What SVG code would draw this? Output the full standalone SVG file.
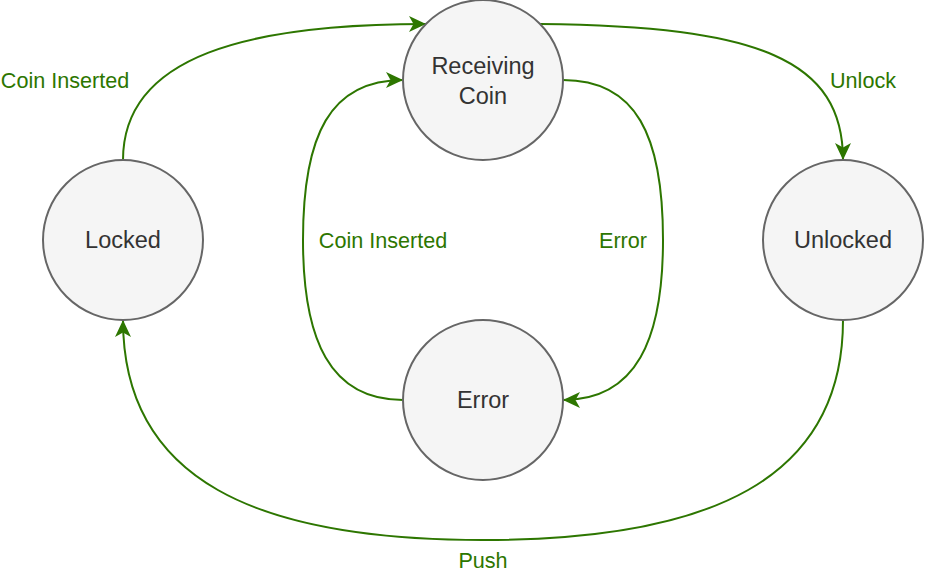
<svg xmlns="http://www.w3.org/2000/svg" width="926" height="576" viewBox="0 0 926 576">
<style>
.node{fill:#f5f5f5;stroke:#666666;stroke-width:2}
.nt{font-family:"Liberation Sans",Arial,sans-serif;font-size:23.5px;fill:#333333;text-anchor:middle}
.edge{fill:none;stroke:#2D7600;stroke-width:2}
.lbl{font-family:"Liberation Sans",Arial,sans-serif;font-size:21.6px;fill:#2D7600;text-anchor:middle}
</style>
<defs>
<marker id="arr" markerUnits="userSpaceOnUse" markerWidth="20" markerHeight="18" refX="17" refY="8" orient="auto">
<path d="M0,0 L17,8 L0,16 L4.5,8 Z" fill="#2D7600"/>
</marker>
</defs>
<g id="connectors">
<path class="edge" d="M123,160 C123,55 250,24 426,24" marker-end="url(#arr)"/>
<path class="edge" d="M540,24 C760,26 843,60 843,160" marker-end="url(#arr)"/>
<path class="edge" d="M403,400 C330,400 303,340 303,240 C303,135 330,80 403,80" marker-end="url(#arr)"/>
<path class="edge" d="M563,80 C636,80 663,135 663,240 C663,340 636,400 563,400" marker-end="url(#arr)"/>
<path class="edge" d="M843,320 C843,480 710,540 483,540 C256,540 123,480 123,320" marker-end="url(#arr)"/>
<text class="lbl" x="65" y="88">Coin Inserted</text>
<text class="lbl" x="863" y="88">Unlock</text>
<text class="lbl" x="383" y="248">Coin Inserted</text>
<text class="lbl" x="623" y="248">Error</text>
<text class="lbl" x="483" y="568">Push</text>
</g>
<g id="locked">
<circle class="node" cx="123" cy="240" r="80"/>
<text class="nt" x="123" y="248">Locked</text>
</g>
<g id="receiving">
<circle class="node" cx="483" cy="80" r="80"/>
<text class="nt" x="483" y="74">Receiving</text>
<text class="nt" x="483" y="104">Coin</text>
</g>
<g id="unlocked">
<circle class="node" cx="843" cy="240" r="80"/>
<text class="nt" x="843" y="248">Unlocked</text>
</g>
<g id="error">
<circle class="node" cx="483" cy="400" r="80"/>
<text class="nt" x="483" y="408">Error</text>
</g>
</svg>
